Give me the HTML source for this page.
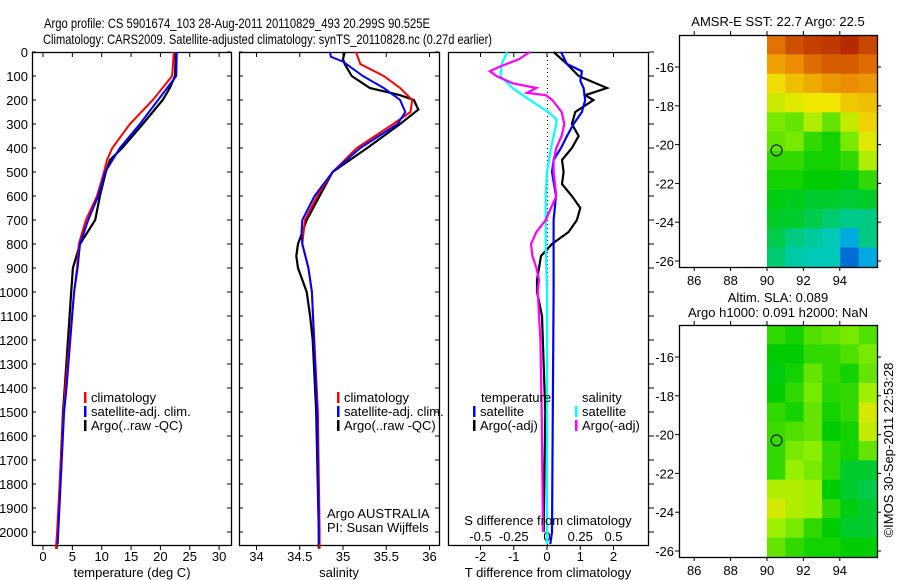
<!DOCTYPE html>
<html><head><meta charset="utf-8"><style>
body{margin:0;background:#fff}
svg{display:block;font-family:"Liberation Sans",sans-serif}
text{font-size:13px;fill:#000}
</style></head><body>
<svg id="chart" width="900" height="580" viewBox="0 0 900 580" xmlns="http://www.w3.org/2000/svg">
<text x="44" y="28" textLength="386" lengthAdjust="spacingAndGlyphs" style="font-size:14px">Argo profile: CS 5901674_103 28-Aug-2011 20110829_493 20.299S 90.525E</text>
<text x="43" y="44" textLength="449" lengthAdjust="spacingAndGlyphs" style="font-size:14px">Climatology: CARS2009. Satellite-adjusted climatology: synTS_20110828.nc (0.27d earlier)</text>
<g id="g"></g>
</svg>
<script>
// ---- data ----
const depthTicks=[0,100,200,300,400,500,600,700,800,900,1000,1100,1200,1300,1400,1500,1600,1700,1800,1900,2000];
const tempTicks=[0,5,10,15,20,25,30];
const salTicks=[34,34.5,35,35.5,36];
const dTTicks=[-2,-1,0,1,2];
const dSTicks=[-0.5,-0.25,0,0.25,0.5];
const dSTickLabels=["-0.5","-0.25","0","0.25","0.5"];

const tArgoZ=[0,100,150,200,300,400,450,500,600,700,800,900,1000,1400,1500,2000,2070];
const tArgo=[22.6,22.5,21.6,20.4,17.0,13.5,11.4,10.7,9.7,8.9,6.3,5.1,4.8,3.7,3.4,2.5,2.3];
const tClimZ=[0,100,200,300,400,450,500,600,700,800,900,1000,1400,1500,2000,2070];
const tClim=[22.3,22.0,18.7,14.8,11.8,10.9,10.4,9.2,7.3,6.1,5.8,5.3,3.8,3.5,2.4,2.2];
const tSatZ=[0,100,200,300,400,500,600,700,800,900,1000,1400,1500,2000,2050];
const tSat=[22.8,22.7,19.6,16.5,13.1,10.6,9.4,7.7,6.3,5.9,5.3,4.0,3.6,2.6,2.5];

const sArgoZ=[0,30,50,100,150,180,200,240,300,400,500,600,700,800,850,900,1000,1100,1200,1500,2000,2070];
const sArgo=[35.02,35.0,35.02,35.1,35.31,35.66,35.82,35.87,35.66,35.28,34.88,34.73,34.58,34.48,34.46,34.48,34.58,34.62,34.65,34.69,34.72,34.72];
const sClimZ=[0,50,100,150,200,250,300,400,500,600,700,800,900,1000,1500,2000,2070];
const sClim=[35.15,35.2,35.47,35.66,35.8,35.78,35.58,35.16,34.88,34.7,34.56,34.53,34.6,34.64,34.71,34.73,34.73];
const sSatZ=[0,20,40,100,150,200,250,300,400,500,600,700,750,800,900,1000,1500,2000,2050];
const sSat=[34.85,34.86,35.0,35.23,35.47,35.66,35.72,35.63,35.2,34.88,34.67,34.53,34.52,34.53,34.6,34.64,34.7,34.72,34.72];

const dTArgoZ=[0,50,100,150,180,200,250,300,350,400,450,500,550,600,650,700,750,800,850,900,950,1000,1100,1500,2000];
const dTArgo=[0.2,0.6,0.95,1.8,1.15,1.4,0.85,0.75,0.95,0.75,0.45,0.5,0.45,0.75,1.0,0.9,0.65,0.15,-0.18,-0.24,-0.3,-0.3,-0.15,-0.05,-0.1];
const dTSatZ=[0,50,80,120,150,200,250,300,350,400,450,500,600,700,800,1000,2000,2050];
const dTSat=[0.42,0.6,1.05,1.0,1.1,1.15,1.05,0.8,0.6,0.42,0.2,0.15,0.27,0.2,0.2,0.2,0.15,0.1];
const dSSatZ=[0,50,100,150,200,250,280,300,350,400,500,600,700,800,1000,2000,2050];
const dSSat=[-0.3,-0.34,-0.35,-0.26,-0.13,0.01,0.07,0.07,0.05,0.03,0,-0.01,-0.01,-0.01,0,0,0];
const dSArgoZ=[0,30,60,80,100,130,150,170,180,200,250,300,350,400,450,500,600,700,750,800,850,900,950,1000,1200,1500,2000];
const dSArgo=[-0.13,-0.21,-0.35,-0.43,-0.38,-0.26,-0.08,-0.15,-0.01,0.04,0.11,0.13,0.11,0.07,0.05,0.05,0.07,-0.01,-0.08,-0.12,-0.11,-0.08,-0.06,-0.07,-0.05,-0.04,-0.03];

const lonTicks=[86,88,90,92,94];
const latTicks=[-16,-18,-20,-22,-24,-26];
const sstGrid=[
[0.87,0.92,0.94,0.95,0.97,0.93],[0.82,0.84,0.88,0.9,0.9,0.88],[0.76,0.79,0.81,0.83,0.84,0.83],
[0.71,0.73,0.75,0.75,0.78,0.79],[0.62,0.6,0.68,0.6,0.7,0.77],[0.6,0.62,0.55,0.52,0.62,0.73],
[0.55,0.55,0.52,0.52,0.55,0.68],[0.52,0.52,0.5,0.5,0.48,0.55],[0.48,0.47,0.45,0.45,0.44,0.46],
[0.46,0.45,0.42,0.38,0.35,0.36],[0.42,0.36,0.33,0.3,0.2,0.36],[0.38,0.32,0.3,0.3,0.1,0.2]];
const slaGrid=[
[0.55,0.52,0.58,0.6,0.62,0.58],[0.5,0.5,0.55,0.55,0.58,0.62],[0.48,0.52,0.6,0.55,0.52,0.6],
[0.5,0.55,0.62,0.54,0.55,0.66],[0.55,0.52,0.6,0.52,0.55,0.72],[0.56,0.58,0.6,0.5,0.52,0.7],
[0.55,0.62,0.64,0.55,0.52,0.6],[0.55,0.65,0.62,0.55,0.45,0.45],[0.68,0.68,0.66,0.5,0.45,0.42],
[0.72,0.68,0.66,0.55,0.48,0.45],[0.66,0.62,0.55,0.5,0.45,0.45],[0.6,0.55,0.52,0.52,0.5,0.5]];
const argoLon=90.525, argoLat=-20.299;

// ---- helpers ----
const NS="http://www.w3.org/2000/svg", G=document.getElementById('g');
function el(t,a,p){const e=document.createElementNS(NS,t);for(const k in a)e.setAttribute(k,a[k]);(p||G).appendChild(e);return e;}
function txt(x,y,s,anchor,extra){const e=el('text',Object.assign({x:x,y:y,'text-anchor':anchor||'start'},extra||{}));e.textContent=s;return e;}
const yD=d=>52+d*0.24;
const TOP=52,BOT=545;
function frame(x0,x1,name){const r=el('rect',{x:x0+.5,y:TOP+.5,width:x1-x0,height:BOT-TOP,fill:'none',stroke:'#000','stroke-width':1.3});

}
function line(xs,zs,fx,color,w,name){let d='';for(let i=0;i<xs.length;i++)d+=(i?'L':'M')+fx(xs[i]).toFixed(1)+','+yD(zs[i]).toFixed(1);
const p=el('path',{d:d,fill:'none',stroke:color,'stroke-width':w||2});

}
function legend(x,y,color,label,name){const r=el('rect',{x:x,y:y-10,width:2.5,height:11,fill:color});


const t=txt(x+7,y,label);

}

depthTicks.forEach(d=>{const t=txt(28,yD(d)+5,String(d),'end');

});

// panel 1 temperature
const xT=v=>43+v*5.87;
frame(32,231,'temperature-panel');
depthTicks.forEach(d=>{el('line',{x1:32,x2:36,y1:yD(d),y2:yD(d),stroke:'#000'});el('line',{x1:227,x2:231,y1:yD(d),y2:yD(d),stroke:'#000'});});
tempTicks.forEach(v=>{el('line',{x1:xT(v),x2:xT(v),y1:BOT,y2:BOT+5,stroke:'#000'});el('line',{x1:xT(v),x2:xT(v),y1:TOP,y2:TOP+5,stroke:'#000'});
const t=txt(xT(v),561,String(v),'middle');

});
line(tArgo,tArgoZ,xT,'#000',2.2,'temperature-argo-line');
line(tClim,tClimZ,xT,'#f00',2,'temperature-climatology-line');
line(tSat,tSatZ,xT,'#00f',2,'temperature-satellite-line');
legend(84,402,'#f00','climatology','temp-legend-climatology');
legend(84,416,'#00f','satellite-adj. clim.','temp-legend-satellite');
legend(84,430,'#000','Argo(..raw -QC)','temp-legend-argo');
let t1=txt(132,577,'temperature (deg C)','middle');

// panel 2 salinity
const xS=v=>343+(v-35)*86.5;
frame(239,439,'salinity-panel');
depthTicks.forEach(d=>{el('line',{x1:239,x2:243,y1:yD(d),y2:yD(d),stroke:'#000'});el('line',{x1:435,x2:439,y1:yD(d),y2:yD(d),stroke:'#000'});});
salTicks.forEach(v=>{el('line',{x1:xS(v),x2:xS(v),y1:BOT,y2:BOT+5,stroke:'#000'});el('line',{x1:xS(v),x2:xS(v),y1:TOP,y2:TOP+5,stroke:'#000'});
const t=txt(xS(v),561,String(v),'middle');

});
line(sArgo,sArgoZ,xS,'#000',2.2,'salinity-argo-line');
line(sClim,sClimZ,xS,'#f00',2,'salinity-climatology-line');
line(sSat,sSatZ,xS,'#00f',2,'salinity-satellite-line');
legend(337,402,'#f00','climatology','sal-legend-climatology');
legend(337,416,'#00f','satellite-adj. clim.','sal-legend-satellite');
legend(337,430,'#000','Argo(..raw -QC)','sal-legend-argo');
let a1=txt(327,518,'Argo AUSTRALIA');
let a2=txt(327,532,'PI: Susan Wijffels');
let t2=txt(339,577,'salinity','middle');

// panel 3 differences
const xdT=v=>547+v*33.25, xdS=v=>547+v*133;
frame(448,648,'difference-panel');
depthTicks.forEach(d=>{el('line',{x1:649,x2:654,y1:yD(d),y2:yD(d),stroke:'#000'});});
el('line',{x1:547.5,x2:547.5,y1:TOP,y2:BOT,stroke:'#000','stroke-dasharray':'1,3'});
dTTicks.forEach(v=>{el('line',{x1:xdT(v),x2:xdT(v),y1:BOT,y2:BOT+5,stroke:'#000'});el('line',{x1:xdT(v),x2:xdT(v),y1:TOP,y2:TOP+5,stroke:'#000'});
const t=txt(xdT(v),561,String(v),'middle');

});
dSTicks.forEach((v,i)=>{const t=txt(xdS(v),541,dSTickLabels[i],'middle');

});
line(dTArgo,dTArgoZ,xdT,'#000',2.2,'t-diff-argo-line');
line(dTSat,dTSatZ,xdT,'#00f',2.2,'t-diff-satellite-line');
line(dSSat,dSSatZ,xdS,'#0ff',2.2,'s-diff-satellite-line');
line(dSArgo,dSArgoZ,xdS,'#f0f',2.2,'s-diff-argo-line');
let l1=txt(481,402,'temperature');
legend(473,416,'#00f','satellite','dtlegend-satellite');
legend(473,430,'#000','Argo(-adj)','dtlegend-argo');
let l2=txt(582,402,'salinity');
legend(575,416,'#0ff','satellite','dslegend-satellite');
legend(575,430,'#f0f','Argo(-adj)','dslegend-argo');
let s1=txt(548,525,'S difference from climatology','middle');
let t3=txt(548,577,'T difference from climatology','middle');

// maps
function cmap(v){const st=[[0,0,50,200],[0.25,0,200,230],[0.5,0,205,0],[0.65,150,240,0],[0.75,240,230,0],[0.85,235,130,0],[1,170,20,0]];
for(let i=1;i<st.length;i++){if(v<=st[i][0]){const a=st[i-1],b=st[i],f=(v-a[0])/(b[0]-a[0]);return 'rgb('+[1,2,3].map(k=>Math.round(a[k]+f*(b[k]-a[k]))).join(',')+')';}}return 'rgb(170,20,0)';}
const MX0=679,MX1=877,lonX=v=>767+(v-90)*18.2;
function map(y0,grid,name,titles,xlabY){
const y1=y0+232, latY=v=>y0+32+(-16-v)*19.4;
const cw=(MX1-767)/grid[0].length, ch=(y1-y0)/grid.length;
grid.forEach((row,r)=>row.forEach((v,c)=>{const e=el('rect',{x:767+c*cw,y:y0+r*ch,width:cw+0.6,height:ch+0.6,fill:cmap(v)});

}));
const f=el('rect',{x:MX0+.5,y:y0+.5,width:MX1-MX0,height:y1-y0,fill:'none',stroke:'#000','stroke-width':1.3});


latTicks.forEach(v=>{el('line',{x1:MX0,x2:MX0-4,y1:latY(v),y2:latY(v),stroke:'#000'});el('line',{x1:MX1,x2:MX1+4,y1:latY(v),y2:latY(v),stroke:'#000'});
const t=txt(674,latY(v)+5,String(v),'end');

});
lonTicks.forEach(v=>{el('line',{x1:lonX(v),x2:lonX(v),y1:y1,y2:y1+4,stroke:'#000'});el('line',{x1:lonX(v),x2:lonX(v),y1:y0,y2:y0-4,stroke:'#000'});
const t=txt(lonX(v),xlabY,String(v),'middle');

});
const c=el('circle',{cx:lonX(argoLon),cy:latY(argoLat),r:5.5,fill:'none',stroke:'#000','stroke-width':1});


titles.forEach((s,i)=>{const t=txt(778,titles.length==1?y0-9:y0-23+i*15,s,'middle');

});
}
map(35,sstGrid,'sst-map',['AMSR-E SST: 22.7 Argo: 22.5'],285);
map(325,slaGrid,'sla-map',['Altim. SLA: 0.089','Argo h1000: 0.091 h2000: NaN'],575);
const cr=txt(0,0,'©IMOS 30-Sep-2011 22:53:28','middle',{transform:'translate(893,450) rotate(-90)'});


</script>
</body></html>
